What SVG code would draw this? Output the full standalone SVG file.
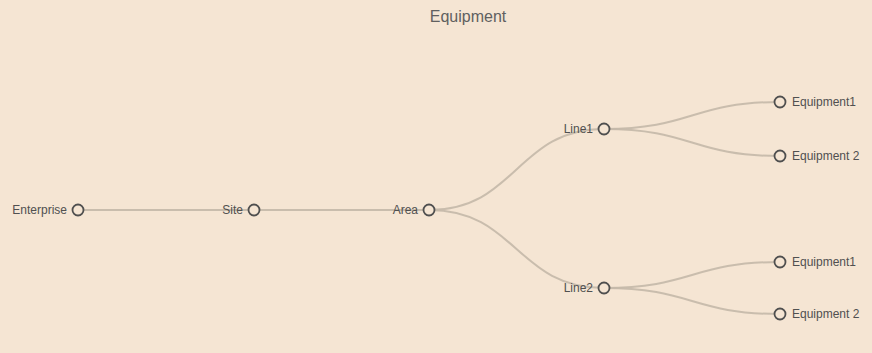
<svg xmlns="http://www.w3.org/2000/svg" width="872" height="353" viewBox="0 0 872 353">
<style>
.link{fill:none;stroke:#c4b8a8;stroke-width:2;opacity:0.9}
.node circle{fill:#f5e5d3;stroke:#4f4f4f;stroke-width:1.8}
.node text{font-family:"Liberation Sans",Arial,sans-serif;font-size:12px;fill:#505050}
.title{font-family:"Liberation Sans",Arial,sans-serif;font-size:16px;fill:#606060}
</style>
<rect x="0" y="0" width="872" height="353" fill="#f5e5d3"/>
<text class="title" x="468" y="22" text-anchor="middle">Equipment</text>
<g id="connectors">
<path class="link" d="M78,210 L254,210"/>
<path class="link" d="M254,210 L429,210"/>
<path class="link" d="M429,210 C516.5,210 516.5,129 604,129"/>
<path class="link" d="M429,210 C516.5,210 516.5,288 604,288"/>
<path class="link" d="M604,129 C692,129 692,102 780,102"/>
<path class="link" d="M604,129 C692,129 692,156 780,156"/>
<path class="link" d="M604,288 C692,288 692,262 780,262"/>
<path class="link" d="M604,288 C692,288 692,314 780,314"/>
</g>
<g id="enterprise" class="node"><circle cx="78" cy="210" r="5.5"/><text x="67" y="214" text-anchor="end">Enterprise</text></g>
<g id="site" class="node"><circle cx="254" cy="210" r="5.5"/><text x="243" y="214" text-anchor="end">Site</text></g>
<g id="area" class="node"><circle cx="429" cy="210" r="5.5"/><text x="418" y="214" text-anchor="end">Area</text></g>
<g id="line1" class="node"><circle cx="604" cy="129" r="5.5"/><text x="593" y="133" text-anchor="end">Line1</text></g>
<g id="line2" class="node"><circle cx="604" cy="288" r="5.5"/><text x="593" y="292" text-anchor="end">Line2</text></g>
<g id="l1-equipment1" class="node"><circle cx="780" cy="102" r="5.5"/><text x="792" y="106">Equipment1</text></g>
<g id="l1-equipment2" class="node"><circle cx="780" cy="156" r="5.5"/><text x="792" y="160">Equipment 2</text></g>
<g id="l2-equipment1" class="node"><circle cx="780" cy="262" r="5.5"/><text x="792" y="266">Equipment1</text></g>
<g id="l2-equipment2" class="node"><circle cx="780" cy="314" r="5.5"/><text x="792" y="318">Equipment 2</text></g>
</svg>
